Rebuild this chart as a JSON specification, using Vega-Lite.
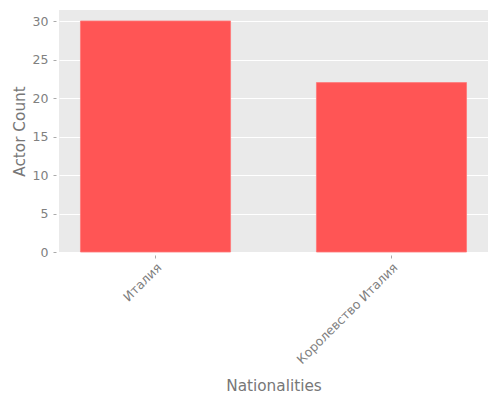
{
  "$schema": "https://vega.github.io/schema/vega-lite/v6.json",
  "autosize": {"type": "none"},
  "padding": {"left": 59, "top": 10, "right": 12, "bottom": 148},
  "width": 429,
  "height": 242,
  "background": "white",
  "data": {"values": [
    {"nationality": "Италия", "count": 30},
    {"nationality": "Королевство Италия", "count": 22}
  ]},
  "mark": {"type": "bar", "color": "#FF5555", "stroke": "#FF7777", "strokeWidth": 0.8},
  "encoding": {
    "x": {
      "field": "nationality", "type": "nominal", "sort": null,
      "title": "Nationalities",
      "scale": {"paddingInner": 0.364, "paddingOuter": 0.091},
      "axis": {"labelAngle": -45, "labelAlign": "right", "labelBaseline": "middle", "labelFontSize": 12.5, "labelColor": "#808080", "labelFont": "DejaVu Sans", "labelPadding": 7, "labelOffset": 4, "offset": 3, "domain": false, "tickColor": "#aaaaaa", "tickSize": 3, "titleFont": "DejaVu Sans", "titleFontSize": 15.3, "titleFontWeight": "normal", "titleColor": "#777777", "titlePadding": 13, "grid": false}
    },
    "y": {
      "field": "count", "type": "quantitative",
      "title": "Actor Count",
      "scale": {"domain": [0, 31.43], "nice": false},
      "axis": {"values": [0, 5, 10, 15, 20, 25, 30], "labelFontSize": 12.5, "labelColor": "#808080", "labelFont": "DejaVu Sans", "labelPadding": 5, "offset": 3, "domain": false, "tickColor": "#aaaaaa", "tickSize": 3, "gridColor": "white", "gridWidth": 1, "titleFont": "DejaVu Sans", "titleFontSize": 15.3, "titleFontWeight": "normal", "titleColor": "#777777", "titlePadding": 5}
    }
  },
  "config": {"view": {"fill": "#EAEAEA", "stroke": null}}
}
